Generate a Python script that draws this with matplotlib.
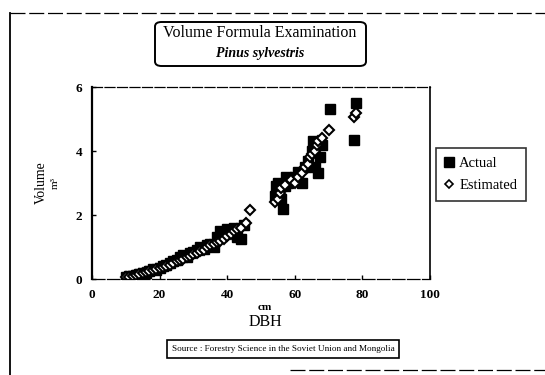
import matplotlib
matplotlib.use("Agg")
import matplotlib.pyplot as plt
from matplotlib.lines import Line2D
from matplotlib.patches import FancyBboxPatch

plt.rcParams['font.family'] = ['Liberation Serif', 'DejaVu Serif']

# Data
actual_dbh = [10, 11, 12, 13, 14, 15, 16, 17, 18, 19, 20, 21, 22, 23, 24, 25, 26, 27, 28,
              29, 30, 31, 32, 33, 34, 35, 36, 37, 38, 39, 40, 41, 42, 43, 44, 45,
              54, 54.5, 55, 56, 56.5, 57, 57.5, 58, 60, 61, 62, 63, 64, 65, 65.5, 66, 67,
              67.5, 68, 70.5, 77.5, 78]
actual_vol = [0.05, 0.08, 0.1, 0.12, 0.15, 0.2, 0.2, 0.25, 0.3, 0.28, 0.35, 0.4, 0.45, 0.5,
              0.55, 0.6, 0.7, 0.75, 0.7, 0.8, 0.85, 0.9, 1.0, 0.95, 1.05, 1.1, 1.0, 1.3,
              1.5, 1.4, 1.55, 1.45, 1.6, 1.3, 1.25, 1.7,
              2.6, 2.9, 3.0, 2.5, 2.2, 2.9, 3.2, 3.0, 3.2, 3.35, 3.0, 3.5, 3.7, 4.0, 4.3,
              3.5, 3.3, 3.8, 4.2, 5.3, 4.35, 5.5]
est_dbh = [10, 11, 12, 13, 14, 15, 16, 17, 18, 19, 20, 21, 22, 23, 24, 25, 26, 27, 28, 29,
           30, 31, 32, 33, 34, 35, 36, 37, 38, 39, 40, 41, 42, 43, 44, 45.5, 46.7,
           54, 55, 55.5, 56, 57, 59, 60, 61, 62, 63, 64, 64.5, 65, 66, 66.5, 67, 68, 70,
           77.5, 78]
est_vol = [0.05, 0.07, 0.1, 0.12, 0.15, 0.18, 0.22, 0.25, 0.28, 0.3, 0.35, 0.38, 0.42,
           0.45, 0.5, 0.55, 0.58, 0.62, 0.68, 0.72, 0.78, 0.82, 0.88, 0.92, 1.0, 1.05,
           1.1, 1.15, 1.2, 1.25, 1.35, 1.4, 1.5, 1.55, 1.6, 1.75, 2.15,
           2.4, 2.5, 2.7, 2.85, 2.95, 3.1, 3.0, 3.2, 3.3, 3.5, 3.6, 3.8, 3.9, 4.0, 4.2,
           4.3, 4.4, 4.65, 5.05, 5.2]
x_ticks = [0, 20, 40, 60, 80, 100]
y_ticks = [0, 2, 4, 6]

W, H = 545, 375
fig = plt.figure(figsize=(W / 100, H / 100), dpi=100)

def fx(px):
    return px / W

def fy(py):
    return 1 - py / H

ax = fig.add_axes([fx(92), fy(279), fx(430) - fx(92), fy(87) - fy(279)])
ax.plot(actual_dbh, actual_vol, linestyle='none', marker='s', markersize=7.5,
        color='black', markeredgecolor='black')
ax.plot(est_dbh, est_vol, linestyle='none', marker='D', markersize=5.5,
        markerfacecolor='white', markeredgecolor='black', markeredgewidth=1.5)
ax.set_xlim(0, 100)
ax.set_ylim(0, 6)
ax.set_xticks(x_ticks)
ax.set_yticks(y_ticks)
ax.tick_params(direction='in', length=3, width=1, labelsize=9.5, pad=7)
for lab in ax.get_xticklabels() + ax.get_yticklabels():
    lab.set_fontweight('bold')
ax.spines['left'].set_linewidth(1.6)
ax.spines['right'].set_linewidth(1.2)
ax.spines['top'].set_linewidth(0.9)
ax.spines['top'].set_linestyle((0, (8, 2)))
ax.spines['bottom'].set_linewidth(0.9)
ax.spines['bottom'].set_linestyle((0, (10, 2)))

# axis labels
fig.text(fx(41), fy(183), 'Volume', rotation=90, ha='center', va='center', fontsize=10)
fig.text(fx(55), fy(183), 'm³', rotation=90, ha='center', va='center', fontsize=8)
fig.text(fx(265), fy(308), 'cm', ha='center', va='center', fontsize=8, fontweight='bold')
fig.text(fx(265), fy(322), 'DBH', ha='center', va='center', fontsize=11.5)

# title box
fig.add_artist(FancyBboxPatch((fx(155), fy(66)), fx(366) - fx(155), fy(22) - fy(66),
                              boxstyle='round,pad=0,rounding_size=0.012',
                              transform=fig.transFigure, fc='white', ec='black', lw=1.4))
fig.text(fx(260), fy(33), 'Volume Formula Examination', ha='center', va='center',
         fontsize=11.5)
fig.text(fx(260), fy(53), 'Pinus sylvestris', ha='center', va='center',
         fontsize=10, style='italic', fontweight='bold')

# legend
handles = [Line2D([], [], linestyle='none', marker='s', markersize=6.5, color='black'),
           Line2D([], [], linestyle='none', marker='D', markersize=4.5, markerfacecolor='white',
                  markeredgecolor='black', markeredgewidth=1.2)]
leg = fig.legend(handles, ['Actual', 'Estimated'], loc='upper left',
                 bbox_to_anchor=(fx(436), fy(148)), frameon=True, fancybox=False,
                 fontsize=10.5, handlelength=0.6, handletextpad=0.4, borderpad=0.6,
                 labelspacing=0.6, borderaxespad=0)
leg.get_frame().set_edgecolor('black')
leg.get_frame().set_linewidth(1.2)

# source box
fig.text(fx(283), fy(349), 'Source : Forestry Science in the Soviet Union and Mongolia',
         ha='center', va='center', fontsize=6.6,
         bbox=dict(boxstyle='square,pad=0.5', fc='white', ec='black', lw=1.2))

# outer frame lines
fig.add_artist(Line2D([fx(10), fx(10)], [fy(13), fy(375)], color='black', lw=1.3))
fig.add_artist(Line2D([fx(10), fx(545)], [fy(13), fy(13)], color='black', lw=0.9,
                      linestyle=(0, (12, 3))))
fig.add_artist(Line2D([fx(290), fx(545)], [fy(370), fy(370)], color='black', lw=0.9,
                      linestyle=(0, (12, 3))))

fig.savefig('out.png', dpi=100)
